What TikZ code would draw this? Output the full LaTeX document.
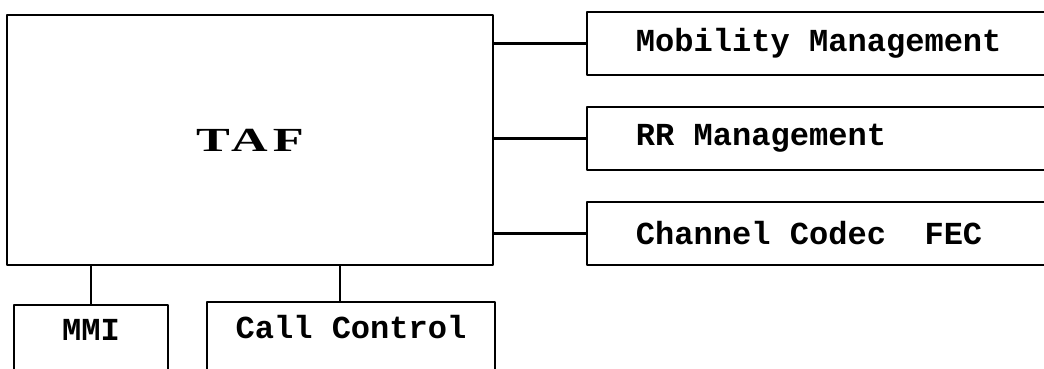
\documentclass[tikz,border=0pt]{standalone}
\usepackage{fontspec}
\setmonofont{Liberation Mono}
\newfontfamily\taffont[LetterSpace=10]{Liberation Serif Bold}
\newcommand\boxfont{\ttfamily\bfseries\fontsize{22.8}{27}\selectfont}
\newcommand\wsp{\hspace*{0.6em}}
\usetikzlibrary{positioning}
\tikzset{
  blk/.style={draw,line width=2pt,inner sep=0pt,font=\boxfont},
  sidebox/.style={blk,text width=9.35cm,align=left,inner xsep=1.225cm,minimum height=1.575cm},
  lowbox/.style={blk,minimum height=1.75cm,text depth=0.5cm},
  link/.style={line width=2pt}
}
\begin{document}
\begin{tikzpicture}[x=0.025cm,y=-0.025cm,line join=round]
    \useasboundingbox (0,0) rectangle (1044,368);
    \clip (0,0) rectangle (1044,368);
    \node[blk,minimum width=12.15cm,minimum height=6.25cm] (taf) at (250,140) {};
    \node[font=\taffont\fontsize{24}{28}\selectfont,xscale=1.5] (taftxt) at (taf.center) {TAF};
    \node[sidebox] (mob) at (823,43.5) {Mobility\wsp Management};
    \node[sidebox] (rr) at (823,138.5) {RR\wsp Management};
    \node[sidebox] (fec) at (823,233.5) {Channel\wsp Codec\wsp\wsp FEC};
    \node[lowbox,minimum width=3.85cm] (mmi) at (91,340) {MMI};
    \node[lowbox,minimum width=7.2cm] (cc) at (351,337) {Call\wsp Control};
    \foreach \n in {mob,rr,fec}
        \draw[link] (\n.west) -- (\n.west -| taf.east);
    \draw[link] (mmi.north) -- (mmi.north |- taf.south);
    \draw[link] ([xshift=-0.275cm]cc.north) -- ([xshift=-0.275cm]cc.north |- taf.south);
\end{tikzpicture}
\end{document}
